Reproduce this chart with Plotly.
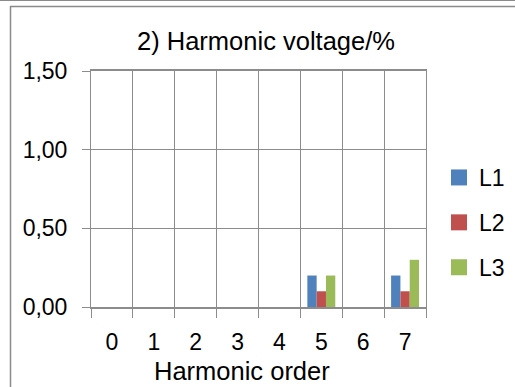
import plotly.graph_objects as go

# Harmonic voltage per phase, in percent
orders = ["0", "1", "2", "3", "4", "5", "6", "7"]
l1 = [0, 0, 0, 0, 0, 0.20, 0, 0.20]
l2 = [0, 0, 0, 0, 0, 0.10, 0, 0.10]
l3 = [0, 0, 0, 0, 0, 0.20, 0, 0.30]
series = [("L1", l1, "#4F81BD"), ("L2", l2, "#C0504D"), ("L3", l3, "#9BBB59")]

W, H = 515, 387
L, R, T, B = 91, 426, 71, 307   # plot area in pixels
FONT = "Liberation Sans"
GRID = "#8c8c8c"

fig = go.Figure()
for name, vals, col in series:
    fig.add_trace(go.Bar(x=orders, y=vals, name=name, marker_color=col,
                         marker_line_width=0, showlegend=False, legendgroup=name))
    # square legend swatch
    fig.add_trace(go.Scatter(x=[None], y=[None], mode="markers", name=name,
                             legendgroup=name,
                             marker=dict(symbol="square", size=16, color=col)))

def px_x(p):
    return (p - L) / (R - L)

def px_y(p):
    return (B - p) / (B - T)

fig.update_layout(
    width=W, height=H,
    margin=dict(l=L, r=W - R, t=T, b=H - B, pad=0, autoexpand=False),
    paper_bgcolor="white", plot_bgcolor="white",
    separators=", ",
    barmode="group", bargap=0.333, bargroupgap=0,
    font=dict(family=FONT, size=23, color="#000000"),
    title=dict(text="2) Harmonic voltage/%", font=dict(family=FONT, size=25.5),
               xref="container", yref="container",
               x=266 / W, xanchor="center", y=1 - 41 / H, yanchor="middle"),
    xaxis=dict(type="category", tickson="boundaries", ticks="outside", ticklen=9,
               tickcolor=GRID, tickwidth=1, showgrid=True, gridcolor=GRID, gridwidth=1,
               showline=True, mirror=True, linecolor=GRID, linewidth=1.5,
               ticklabelstandoff=14, tickfont=dict(size=23), fixedrange=True),
    yaxis=dict(range=[0, 1.5], dtick=0.5, tickformat=".2f", ticks="outside", ticklen=8,
               tickcolor=GRID, tickwidth=1, showgrid=True, gridcolor=GRID, gridwidth=1,
               showline=True, mirror=True, linecolor=GRID, linewidth=1, zeroline=False,
               ticklabelstandoff=10, tickfont=dict(size=23), fixedrange=True),
    legend=dict(x=px_x(439), xanchor="left", y=px_y(156), yanchor="top",
                font=dict(size=23), tracegroupgap=12, itemwidth=30,
                bgcolor="rgba(0,0,0,0)"),
    annotations=[dict(text="Harmonic order", xref="paper", yref="paper",
                      x=px_x(242), y=px_y(371), xanchor="center", yanchor="middle",
                      showarrow=False, font=dict(family=FONT, size=25.5))],
    shapes=[
        # chart frame
        dict(type="line", xref="paper", yref="paper", x0=px_x(0), x1=px_x(W),
             y0=px_y(0.5), y1=px_y(0.5), line=dict(color="#8a8a8a", width=1)),
        dict(type="line", xref="paper", yref="paper", x0=px_x(10), x1=px_x(W),
             y0=px_y(6.5), y1=px_y(6.5), line=dict(color="#8a8a8a", width=1.5)),
        dict(type="line", xref="paper", yref="paper", x0=px_x(10.5), x1=px_x(10.5),
             y0=px_y(6), y1=px_y(H), line=dict(color="#8a8a8a", width=1.5)),
    ],
)

fig.write_html("out.html")
